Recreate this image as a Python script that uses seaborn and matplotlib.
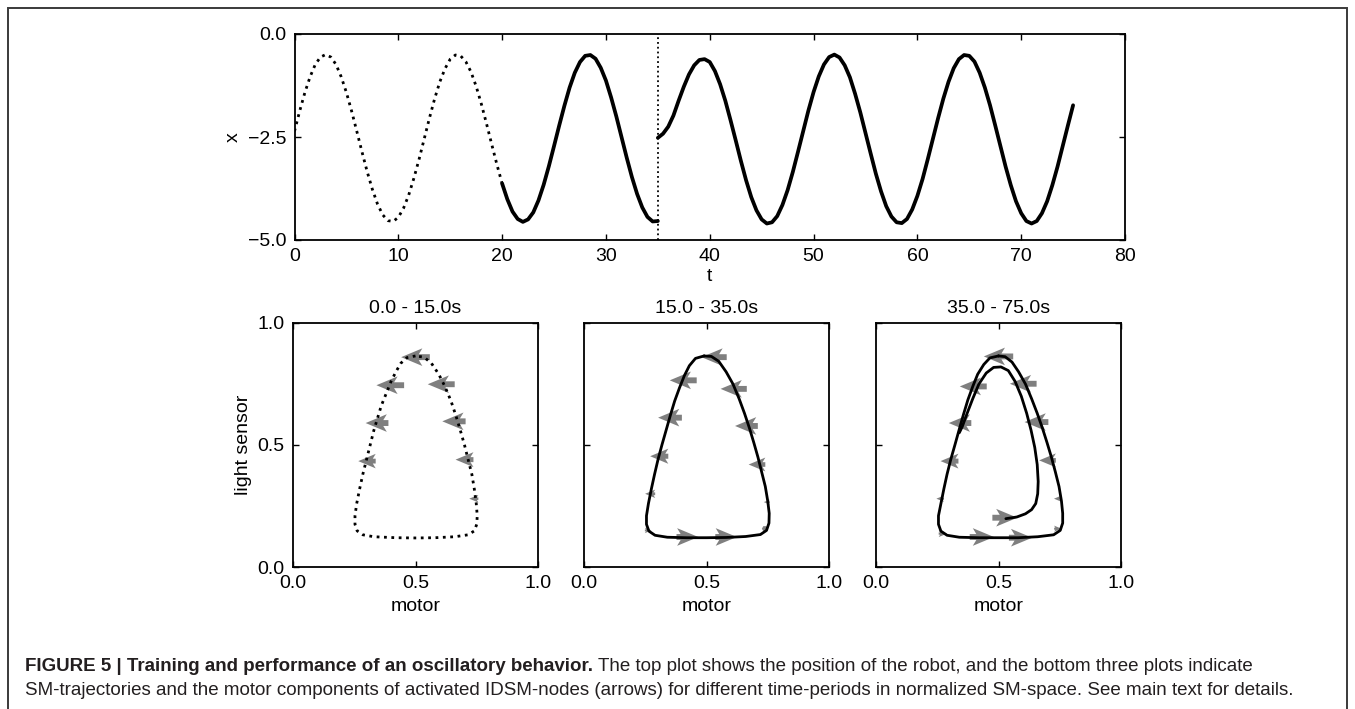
import numpy as np
import matplotlib
matplotlib.use("Agg")
import matplotlib.pyplot as plt
from matplotlib.patches import Rectangle
import seaborn as sns

# ---- top plot: robot position x(t) ----
t_train = np.arange(0, 35.01, 0.5)
x_train = [-2.36, -1.87, -1.42, -1.04, -0.74, -0.56, -0.50, -0.56, -0.74, -1.04,
           -1.42, -1.87, -2.36, -2.86, -3.34, -3.77, -4.13, -4.39, -4.53, -4.55,
           -4.45, -4.23, -3.91, -3.50, -3.04, -2.54, -2.04, -1.57, -1.16, -0.84,
           -0.61, -0.51, -0.53, -0.67, -0.92, -1.27, -1.70, -2.18, -2.68, -3.17,
           -3.63, -4.01, -4.31, -4.49, -4.56, -4.50, -4.33, -4.04, -3.66, -3.21,
           -2.72, -2.22, -1.74, -1.30, -0.94, -0.68, -0.53, -0.51, -0.60, -0.82,
           -1.13, -1.54, -2.00, -2.50, -3.00, -3.47, -3.88, -4.21, -4.44, -4.55,
           -4.54]
t_run = np.arange(35, 75.01, 0.5)
x_run = [-2.52, -2.42, -2.25, -1.98, -1.62, -1.28, -0.98, -0.76, -0.63, -0.61,
         -0.68, -0.90, -1.22, -1.62, -2.09, -2.58, -3.08, -3.55, -3.96, -4.28,
         -4.50, -4.60, -4.57, -4.42, -4.15, -3.79, -3.35, -2.86, -2.36, -1.86,
         -1.41, -1.03, -0.74, -0.56, -0.50, -0.57, -0.76, -1.05, -1.45, -1.90,
         -2.40, -2.90, -3.39, -3.82, -4.18, -4.43, -4.57, -4.59, -4.49, -4.26,
         -3.93, -3.52, -3.04, -2.54, -2.04, -1.57, -1.16, -0.83, -0.61, -0.51,
         -0.53, -0.67, -0.94, -1.30, -1.73, -2.22, -2.72, -3.22, -3.67, -4.06,
         -4.35, -4.54, -4.60, -4.54, -4.35, -4.06, -3.67, -3.22, -2.72, -2.22,
         -1.73]
t_dotted_end = 20
t_switch = 35

# ---- bottom plots: SM trajectories (motor, light sensor) ----
p1_motor = [0.50, 0.465, 0.44, 0.42, 0.40, 0.38, 0.36, 0.345, 0.33, 0.315, 0.30,
            0.285, 0.272, 0.26, 0.253, 0.253, 0.262, 0.285, 0.33, 0.42, 0.50,
            0.58, 0.66, 0.715, 0.74, 0.75, 0.752, 0.748, 0.74, 0.73, 0.715,
            0.70, 0.683, 0.665, 0.645, 0.62, 0.595, 0.565, 0.535, 0.50]
p1_light = [0.865, 0.858, 0.835, 0.80, 0.76, 0.71, 0.66, 0.61, 0.56, 0.50, 0.44,
            0.38, 0.32, 0.26, 0.21, 0.175, 0.148, 0.132, 0.124, 0.12, 0.119,
            0.12, 0.124, 0.132, 0.148, 0.175, 0.21, 0.26, 0.32, 0.38, 0.44,
            0.50, 0.56, 0.62, 0.68, 0.74, 0.79, 0.835, 0.86, 0.865]

p2_motor = [0.49, 0.455, 0.43, 0.41, 0.39, 0.37, 0.352, 0.335, 0.318, 0.302,
            0.288, 0.275, 0.263, 0.255, 0.255, 0.265, 0.29, 0.34, 0.42, 0.50,
            0.58, 0.66, 0.72, 0.745, 0.755, 0.756, 0.75, 0.74, 0.725, 0.71,
            0.693, 0.675, 0.655, 0.633, 0.608, 0.58, 0.55, 0.52, 0.49]
p2_light = [0.865, 0.855, 0.825, 0.785, 0.735, 0.68, 0.62, 0.56, 0.50, 0.44,
            0.38, 0.32, 0.26, 0.21, 0.175, 0.147, 0.13, 0.122, 0.12, 0.12,
            0.121, 0.125, 0.133, 0.15, 0.18, 0.22, 0.27, 0.33, 0.39, 0.45,
            0.51, 0.57, 0.63, 0.69, 0.75, 0.80, 0.843, 0.863, 0.865]

p3_motor = [0.50, 0.465, 0.44, 0.415, 0.395, 0.375, 0.357, 0.34, 0.322, 0.305,
            0.29, 0.277, 0.265, 0.255, 0.255, 0.265, 0.29, 0.34, 0.42, 0.50,
            0.58, 0.66, 0.725, 0.752, 0.762, 0.762, 0.757, 0.747, 0.732, 0.716,
            0.698, 0.679, 0.658, 0.635, 0.61, 0.582, 0.555, 0.527, 0.50]
p3_light = [0.865, 0.857, 0.83, 0.79, 0.74, 0.685, 0.625, 0.565, 0.50, 0.44,
            0.38, 0.32, 0.26, 0.21, 0.175, 0.147, 0.13, 0.122, 0.12, 0.12,
            0.12, 0.124, 0.132, 0.15, 0.18, 0.22, 0.27, 0.33, 0.39, 0.45,
            0.51, 0.57, 0.63, 0.69, 0.75, 0.80, 0.84, 0.862, 0.865]
p3_inner_motor = [0.53, 0.575, 0.61, 0.635, 0.652, 0.66, 0.662, 0.658, 0.648,
                  0.633, 0.615, 0.593, 0.568, 0.54, 0.51, 0.48, 0.45, 0.42,
                  0.395, 0.372, 0.352, 0.34]
p3_inner_light = [0.198, 0.205, 0.218, 0.235, 0.26, 0.30, 0.35, 0.42, 0.49,
                  0.56, 0.63, 0.70, 0.76, 0.805, 0.82, 0.818, 0.795, 0.75,
                  0.69, 0.63, 0.575, 0.55]

# ---- IDSM node arrows: position and motor component ----
a1_x = [0.50, 0.397, 0.605, 0.343, 0.657, 0.302, 0.70, 0.738]
a1_y = [0.86, 0.745, 0.749, 0.59, 0.597, 0.434, 0.44, 0.28]
a1_u = [-0.117, -0.113, -0.11, -0.093, -0.095, -0.071, -0.073, -0.037]

a2_x = [0.531, 0.405, 0.611, 0.351, 0.663, 0.307, 0.706, 0.27, 0.746, 0.738,
        0.262, 0.422, 0.58]
a2_y = [0.86, 0.765, 0.73, 0.612, 0.578, 0.454, 0.42, 0.30, 0.266, 0.157,
        0.15, 0.123, 0.123]
a2_u = [-0.103, -0.11, -0.107, -0.097, -0.093, -0.074, -0.068, -0.041, -0.024,
        0.023, 0.027, 0.089, 0.088]

a3_x = [0.50, 0.397, 0.601, 0.343, 0.655, 0.30, 0.70, 0.262, 0.74, 0.273,
        0.742, 0.432, 0.59, 0.526]
a3_y = [0.863, 0.74, 0.751, 0.59, 0.594, 0.434, 0.437, 0.28, 0.28, 0.137,
        0.157, 0.123, 0.12, 0.202]
a3_u = [-0.12, -0.11, -0.109, -0.092, -0.097, -0.073, -0.068, -0.031, -0.027,
        0.034, 0.03, 0.099, 0.095, 0.102]

titles = ["0.0 - 15.0s", "15.0 - 35.0s", "35.0 - 75.0s"]

caption_bold = "FIGURE 5 | Training and performance of an oscillatory behavior."
caption_rest1 = ("The top plot shows the position of the robot, and the bottom "
                 "three plots indicate")
caption_line2 = ("SM-trajectories and the motor components of activated "
                 "IDSM-nodes (arrows) for different time-periods in normalized "
                 "SM-space. See main text for details.")

sns.set_style("ticks")
plt.rcParams["font.family"] = ["Liberation Sans", "DejaVu Sans"]
plt.rcParams.update({
    "font.size": 14,
    "axes.linewidth": 1.3,
    "axes.edgecolor": "black",
    "xtick.direction": "in",
    "ytick.direction": "in",
    "xtick.top": True,
    "ytick.right": True,
    "xtick.major.size": 4,
    "ytick.major.size": 4,
    "xtick.major.width": 1,
    "ytick.major.width": 1,
    "xtick.major.pad": 6,
    "ytick.major.pad": 6,
    "xtick.color": "black",
    "ytick.color": "black",
    "axes.labelcolor": "black",
    "text.color": "black",
})

W, H = 1355, 709
fig = plt.figure(figsize=(W / 100, H / 100), dpi=100)

# top plot
ax = fig.add_axes([294.5 / W, 1 - 240 / H, 830.5 / W, 206 / H])
t_train_arr = np.asarray(t_train)
x_train_arr = np.asarray(x_train)
m_dot = t_train_arr <= t_dotted_end
m_sol = t_train_arr >= t_dotted_end
sns.lineplot(x=t_train_arr[m_dot], y=x_train_arr[m_dot], ax=ax, color="black",
             lw=2.0, linestyle=":", sort=False, estimator=None)
sns.lineplot(x=t_train_arr[m_sol], y=x_train_arr[m_sol], ax=ax, color="black",
             lw=2.7, sort=False, estimator=None)
sns.lineplot(x=t_run, y=x_run, ax=ax, color="black", lw=2.7, sort=False,
             estimator=None)
ax.axvline(t_switch, color="black", lw=1.3, linestyle=":")
ax.set_xlim(0, 80)
ax.set_ylim(-5, 0)
ax.set_xticks(range(0, 81, 10))
ax.set_yticks([0, -2.5, -5])
ax.set_yticklabels(["0.0", "\u22122.5", "\u22125.0"])
ax.set_xlabel("t", labelpad=2)
ax.set_ylabel("x", labelpad=4)

# bottom plots
lefts = [293, 584, 876]
loops = [(p1_motor, p1_light), (p2_motor, p2_light), (p3_motor, p3_light)]
arrows = [(a1_x, a1_y, a1_u), (a2_x, a2_y, a2_u), (a3_x, a3_y, a3_u)]
for i in range(3):
    bx = fig.add_axes([lefts[i] / W, 1 - 567 / H, 245 / W, 244 / H])
    ax_, ay_, au_ = arrows[i]
    bx.quiver(ax_, ay_, au_, np.zeros(len(au_)), angles="xy", scale_units="xy",
              scale=1, pivot="middle", color="#7f7f7f", width=0.024,
              headwidth=3.0, headlength=3.6, headaxislength=3.0, zorder=2)
    mx, ly = loops[i]
    sns.lineplot(x=mx, y=ly, ax=bx, color="black", sort=False, estimator=None,
                 lw=2.0, linestyle=":" if i == 0 else "-", zorder=3)
    if i == 2:
        sns.lineplot(x=p3_inner_motor, y=p3_inner_light, ax=bx, color="black",
                     sort=False, estimator=None, lw=2.0, zorder=3)
    bx.set_xlim(0, 1)
    bx.set_ylim(0, 1)
    bx.set_xticks([0, 0.5, 1])
    bx.set_yticks([0, 0.5, 1])
    bx.set_xticklabels(["0.0", "0.5", "1.0"])
    bx.set_title(titles[i], fontsize=14, pad=7)
    bx.set_xlabel("motor", labelpad=4)
    if i == 0:
        bx.set_yticklabels(["0.0", "0.5", "1.0"])
        bx.set_ylabel("light sensor", labelpad=4)
    else:
        bx.set_yticklabels([])
        bx.set_ylabel("")

# frame around the figure
fig.patches.append(Rectangle((8 / W, -0.05), (1347 - 8) / W, 1.05 - 8 / H,
                             transform=fig.transFigure, fill=False,
                             edgecolor="#3a3a3a", lw=1.4))

# caption
cap_color = "#231f20"
cap_size = 13.5
tb = fig.text(25 / W, 1 - 671 / H, caption_bold, fontsize=cap_size,
              fontweight="bold", color=cap_color, ha="left", va="baseline")
fig.canvas.draw()
bb = tb.get_window_extent()
fig.text((bb.x1 + 5) / W, 1 - 671 / H, caption_rest1, fontsize=cap_size,
         color=cap_color, ha="left", va="baseline")
fig.text(25 / W, 1 - 695 / H, caption_line2, fontsize=cap_size, color=cap_color,
         ha="left", va="baseline")

fig.savefig("out.png", dpi=100)
